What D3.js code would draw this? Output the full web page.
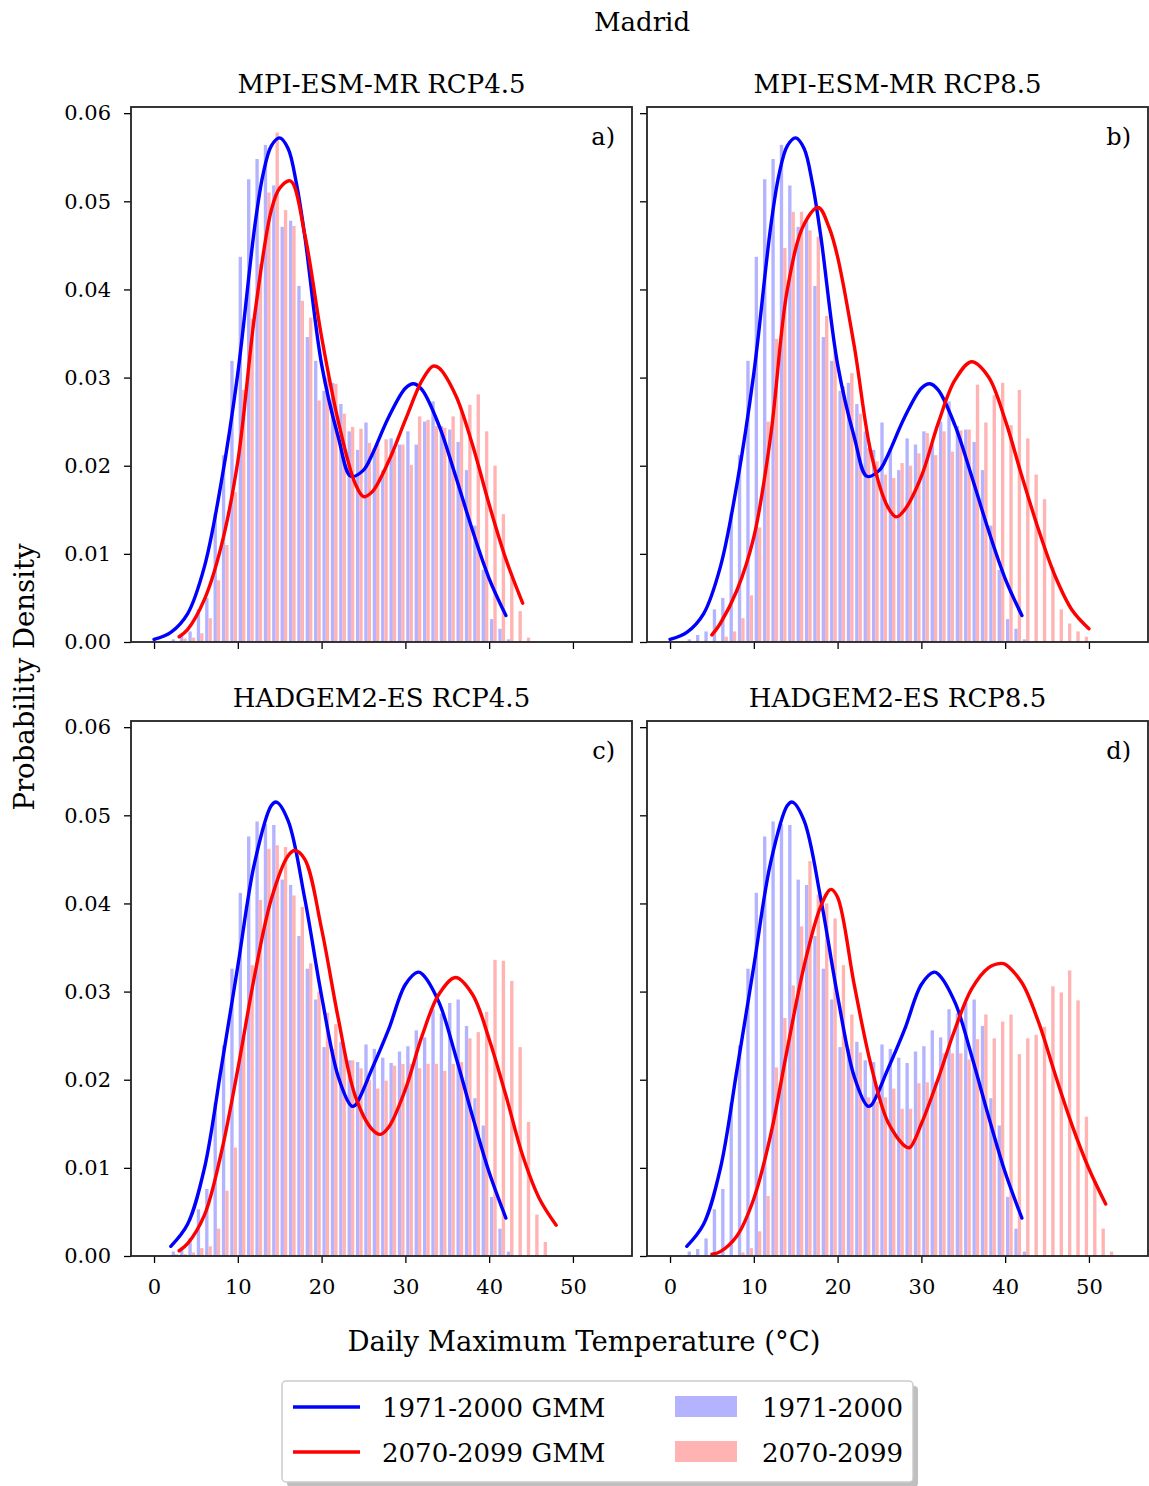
<!DOCTYPE html>
<html>
<head>
<meta charset="utf-8">
<script src="https://cdn.jsdelivr.net/npm/d3@7"></script>
<style>
  body { margin: 0; background: #fff; }
  text { font-family: "DejaVu Serif", serif; fill: #000; }
</style>
</head>
<body>
<div id="chart"></div>
<script>
// histogram densities, one value per 1 degree bin starting at 0 C
const histMpiHist = [0, 0, 0.0003, 0.0008, 0.0012, 0.0037, 0.0050, 0.0146, 0.0212, 0.0319,
  0.0437, 0.0525, 0.0548, 0.0564, 0.0518, 0.0471, 0.0478, 0.0404, 0.0346, 0.0319,
  0.0285, 0.0294, 0.0270, 0.0239, 0.0218, 0.0249, 0.0220, 0.0195, 0.0231, 0.0224,
  0.0239, 0.0224, 0.0250, 0.0273, 0.0245, 0.0241, 0.0227, 0.0195, 0.0132, 0.0082,
  0.0026, 0.0015, 0.0003];
const histMpi45 = [0, 0, 0, 0.0004, 0.0005, 0.0010, 0.0027, 0.0070, 0.0110, 0.0170,
  0.0286, 0.0367, 0.0429, 0.0510, 0.0578, 0.0490, 0.0472, 0.0387, 0.0368, 0.0274,
  0.0300, 0.0293, 0.0259, 0.0244, 0.0242, 0.0226, 0.0225, 0.0230, 0.0217, 0.0224,
  0.0201, 0.0256, 0.0252, 0.0245, 0.0243, 0.0256, 0.0262, 0.0269, 0.0281, 0.0239,
  0.0200, 0.0145, 0.0074, 0.0035, 0.0005];
const histMpi85 = [0, 0, 0, 0, 0, 0, 0.0006, 0.0012, 0.0027, 0.0053,
  0.0130, 0.0250, 0.0344, 0.0447, 0.0488, 0.0488, 0.0467, 0.0460, 0.0370, 0.0330,
  0.0290, 0.0305, 0.0259, 0.0220, 0.0205, 0.0190, 0.0186, 0.0203, 0.0200, 0.0214,
  0.0237, 0.0212, 0.0239, 0.0216, 0.0240, 0.0241, 0.0292, 0.0249, 0.0280, 0.0294,
  0.0246, 0.0286, 0.0231, 0.0190, 0.0162, 0.0085, 0.0037, 0.0021, 0.0012, 0.0006];
const histHadHist = [0, 0, 0.0005, 0.0008, 0.0020, 0.0053, 0.0076, 0.0174, 0.0239, 0.0326,
  0.0412, 0.0476, 0.0493, 0.0490, 0.0489, 0.0427, 0.0421, 0.0363, 0.0326, 0.0291,
  0.0237, 0.0235, 0.0243, 0.0222, 0.0220, 0.0240, 0.0235, 0.0225, 0.0219, 0.0232,
  0.0238, 0.0256, 0.0248, 0.0280, 0.0275, 0.0287, 0.0291, 0.0261, 0.0179, 0.0148,
  0.0067, 0.0031, 0.0005];
const histHad45 = [0, 0, 0.0002, 0.0002, 0.0004, 0.0009, 0.0011, 0.0031, 0.0074, 0.0123,
  0.0248, 0.0330, 0.0404, 0.0462, 0.0466, 0.0464, 0.0409, 0.0396, 0.0332, 0.0300,
  0.0276, 0.0263, 0.0233, 0.0222, 0.0213, 0.0200, 0.0190, 0.0199, 0.0216, 0.0218,
  0.0218, 0.0213, 0.0218, 0.0218, 0.0210, 0.0218, 0.0220, 0.0247, 0.0254, 0.0277,
  0.0336, 0.0335, 0.0312, 0.0237, 0.0152, 0.0047, 0.0016];
const histHad85 = [0, 0, 0, 0, 0, 0, 0, 0, 0.0004, 0.0009,
  0.0028, 0.0068, 0.0214, 0.0270, 0.0307, 0.0374, 0.0448, 0.0410, 0.0400, 0.0383,
  0.0330, 0.0274, 0.0231, 0.0180, 0.0175, 0.0180, 0.0190, 0.0167, 0.0167, 0.0196,
  0.0197, 0.0197, 0.0230, 0.0230, 0.0230, 0.0223, 0.0246, 0.0274, 0.0247, 0.0266,
  0.0274, 0.0229, 0.0247, 0.0251, 0.0260, 0.0306, 0.0299, 0.0324, 0.0290, 0.0158,
  0.0085, 0.0031, 0.0005];

// GMM curves: [temperature, density]
const gmmMpiHist = [[0, 0.0003], [2, 0.0011], [4, 0.0032], [6, 0.0085], [8, 0.0180], [10, 0.0305],
  [12, 0.0470], [13, 0.0530], [14, 0.0563], [15, 0.0572], [16, 0.0560], [17, 0.0520], [18, 0.0460],
  [20, 0.0315], [22, 0.0232], [23.5, 0.0188], [25, 0.0195], [26, 0.0212], [28, 0.0255], [30, 0.0288],
  [31, 0.0293], [32, 0.0286], [34, 0.0246], [36, 0.0188], [38, 0.0127], [40, 0.0072], [42, 0.0030]];
const gmmMpi45 = [[3, 0.0006], [4, 0.0014], [6, 0.0048], [8, 0.0108], [10, 0.0205], [12, 0.0370],
  [14, 0.0490], [15, 0.0515], [16.3, 0.0523], [18, 0.0462], [20, 0.0346], [22, 0.0250], [24, 0.0180],
  [25, 0.0165], [26, 0.0170], [28, 0.0205], [30, 0.0252], [32, 0.0297], [33.3, 0.0313], [34, 0.0311],
  [36, 0.0280], [38, 0.0224], [40, 0.0156], [42, 0.0094], [44, 0.0044]];
const gmmMpi85 = [[5, 0.0008], [6, 0.0021], [8, 0.0059], [10, 0.0119], [12, 0.0233], [14, 0.0400],
  [16, 0.0474], [17.7, 0.0493], [19, 0.0470], [20, 0.0437], [22, 0.0335], [24, 0.0214], [26, 0.0153],
  [27, 0.0142], [28, 0.0150], [30, 0.0188], [32, 0.0248], [34, 0.0297], [36, 0.0318], [38, 0.0301],
  [40, 0.0252], [42, 0.0188], [44, 0.0127], [46, 0.0074], [48, 0.0036], [50, 0.0015]];
const gmmHadHist = [[2, 0.0011], [4, 0.0036], [6, 0.0099], [8, 0.0212], [10, 0.0329], [12, 0.0446],
  [14, 0.0511], [14.6, 0.0515], [16, 0.0494], [18, 0.0405], [20, 0.0295], [22, 0.0203], [23.6, 0.0170],
  [24, 0.0171], [26, 0.0212], [28, 0.0257], [30, 0.0308], [31.5, 0.0322], [32, 0.0320], [34, 0.0288],
  [36, 0.0227], [38, 0.0159], [40, 0.0095], [42, 0.0043]];
const gmmHad45 = [[3, 0.0006], [4, 0.0014], [6, 0.0046], [8, 0.0116], [10, 0.0212], [12, 0.0318],
  [14, 0.0405], [16, 0.0454], [16.8, 0.0460], [18, 0.0450], [20, 0.0371], [22, 0.0269], [24, 0.0182],
  [26, 0.0144], [27, 0.0138], [28, 0.0146], [30, 0.0189], [32, 0.0250], [34, 0.0297], [36, 0.0316],
  [38, 0.0297], [40, 0.0246], [42, 0.0182], [44, 0.0114], [46, 0.0065], [48, 0.0035]];
const gmmHad85 = [[5, 0.0002], [6, 0.0005], [8, 0.0023], [10, 0.0065], [12, 0.0137], [14, 0.0235],
  [16, 0.0329], [18, 0.0397], [19.2, 0.0416], [20, 0.0407], [22, 0.0307], [24, 0.0216], [26, 0.0152],
  [28, 0.0125], [28.6, 0.0123], [30, 0.0150], [32, 0.0201], [34, 0.0257], [36, 0.0303], [38, 0.0327],
  [39.5, 0.0332], [40, 0.0331], [42, 0.0310], [44, 0.0265], [46, 0.0205], [48, 0.0148], [50, 0.0099],
  [52, 0.0059]];

const panelTitles = ["MPI-ESM-MR RCP4.5", "MPI-ESM-MR RCP8.5", "HADGEM2-ES RCP4.5", "HADGEM2-ES RCP8.5"];
const panelLetters = ["a)", "b)", "c)", "d)"];
const xTicks = [0, 10, 20, 30, 40, 50];
const yTicks = [0, 0.01, 0.02, 0.03, 0.04, 0.05, 0.06];
const legendLabels = ["1971-2000 GMM", "2070-2099 GMM", "1971-2000", "2070-2099"];

const panels = [
  { hist: [histMpiHist, histMpi45], gmm: [gmmMpiHist, gmmMpi45] },
  { hist: [histMpiHist, histMpi85], gmm: [gmmMpiHist, gmmMpi85] },
  { hist: [histHadHist, histHad45], gmm: [gmmHadHist, gmmHad45] },
  { hist: [histHadHist, histHad85], gmm: [gmmHadHist, gmmHad85] }
];

const width = 1149, height = 1486;
const colLeft = [131, 647], rowTop = [107, 721];
const pw = 501, ph = 535;
const binWidth = 1;
const lineColors = ["#0000ff", "#ff0000"];
const barColors = ["#b3b3ff", "#ffb3b3"];

const svg = d3.select("#chart").append("svg")
  .attr("width", width)
  .attr("height", height);

// scales are shared, like sharex / sharey
const x = d3.scaleLinear().domain([-2.75, 57.05]).range([0, pw]);
const y = d3.scaleLinear().domain([0, 0.0607]).range([ph, 0]);

const line = d3.line()
  .x(d => x(d[0]))
  .y(d => y(d[1]))
  .curve(d3.curveCatmullRom.alpha(0.5));

panels.forEach((p, i) => {
  const col = i % 2, row = Math.floor(i / 2);
  const g = svg.append("g")
    .attr("transform", `translate(${colLeft[col]},${rowTop[row]})`);

  // side by side bars: first series left half, second right half
  p.hist.forEach((vals, s) => {
    g.selectAll(".bar" + s)
      .data(vals.map((v, k) => ({ k, v })).filter(d => d.v > 0))
      .enter()
      .append("rect")
      .attr("x", d => x(d.k * binWidth + binWidth * (0.1 + 0.4 * s)))
      .attr("width", x(0.4 * binWidth) - x(0))
      .attr("y", d => y(d.v))
      .attr("height", d => y(0) - y(d.v))
      .attr("fill", barColors[s]);
  });

  p.gmm.forEach((pts, s) => {
    g.append("path")
      .datum(pts)
      .attr("d", line)
      .attr("fill", "none")
      .attr("stroke", lineColors[s])
      .attr("stroke-width", 3.4)
      .attr("stroke-linecap", "round");
  });

  // axes
  const yAxis = d3.axisLeft(y).tickValues(yTicks).tickSize(7).tickPadding(13)
    .tickFormat(col === 0 ? d3.format(".2f") : "");
  const xAxis = d3.axisBottom(x).tickValues(xTicks).tickSize(7).tickPadding(16)
    .tickFormat(row === 1 ? d3.format("d") : "");
  const ya = g.append("g").call(yAxis);
  const xa = g.append("g").attr("transform", `translate(0,${ph})`).call(xAxis);
  [ya, xa].forEach(a => {
    a.select(".domain").remove();
    a.selectAll("line").attr("stroke", "#000").attr("stroke-width", 1.3);
    a.selectAll("text").style("font-size", "21px").style("font-family", "DejaVu Serif");
  });

  g.append("rect")
    .attr("width", pw).attr("height", ph)
    .attr("fill", "none").attr("stroke", "#222").attr("stroke-width", 1.8);

  g.append("text")
    .attr("x", pw / 2).attr("y", -14)
    .attr("text-anchor", "middle")
    .style("font-size", "26px")
    .text(panelTitles[i]);

  g.append("text")
    .attr("x", pw - 17).attr("y", 38)
    .attr("text-anchor", "end")
    .style("font-size", "24px")
    .text(panelLetters[i]);
});

// figure labels
svg.append("text")
  .attr("x", 642).attr("y", 31)
  .attr("text-anchor", "middle")
  .style("font-size", "26px")
  .text("Madrid");

svg.append("text")
  .attr("transform", "translate(34,677) rotate(-90)")
  .attr("text-anchor", "middle")
  .style("font-size", "27.5px")
  .text("Probability Density");

svg.append("text")
  .attr("x", 584).attr("y", 1351)
  .attr("text-anchor", "middle")
  .style("font-size", "27.5px")
  .text("Daily Maximum Temperature (°C)");

// legend with shadow
const leg = svg.append("g").attr("transform", "translate(282,1381)");
leg.append("rect")
  .attr("x", 5).attr("y", 5).attr("width", 631).attr("height", 101).attr("rx", 4)
  .attr("fill", "#808080").attr("opacity", 0.5);
leg.append("rect")
  .attr("width", 631).attr("height", 101).attr("rx", 4)
  .attr("fill", "#fff").attr("stroke", "#cccccc").attr("stroke-width", 1.5);

lineColors.forEach((c, s) => {
  const yy = 26 + s * 45;
  leg.append("line")
    .attr("x1", 11).attr("x2", 78).attr("y1", yy).attr("y2", yy)
    .attr("stroke", c).attr("stroke-width", 3.4);
  leg.append("text")
    .attr("x", 100).attr("y", yy + 10)
    .style("font-size", "26px")
    .text(legendLabels[s]);
  leg.append("rect")
    .attr("x", 393).attr("y", yy - 11).attr("width", 62).attr("height", 21)
    .attr("fill", barColors[s]);
  leg.append("text")
    .attr("x", 480).attr("y", yy + 10)
    .style("font-size", "26px")
    .text(legendLabels[s + 2]);
});
</script>
</body>
</html>
